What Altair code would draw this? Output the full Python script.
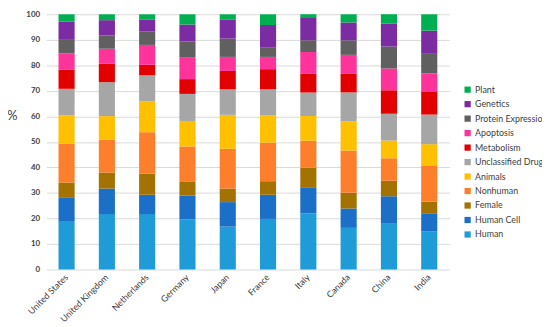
import altair as alt
import pandas as pd

countries = ["United States", "United Kingdom", "Netherlands", "Germany", "Japan",
             "France", "Italy", "Canada", "China", "India"]

series = ["Human", "Human Cell", "Female", "Nonhuman", "Animals", "Unclassified Drug",
          "Metabolism", "Apoptosis", "Protein Expression", "Genetics", "Plant"]

colors = ["#1F9BD7", "#1B6FC6", "#A37200", "#FD7F2C", "#FFC000", "#A6A6A6",
          "#E30000", "#FF3399", "#606060", "#7B2CA3", "#00B050"]

human        = [19.0, 21.7, 21.7, 19.6, 16.8, 19.8, 22.0, 16.3, 17.9, 15.0]
human_cell   = [9.3, 10.0, 7.6, 9.4, 9.6, 9.5, 10.2, 7.6, 10.8, 6.8]
female       = [5.8, 6.3, 8.3, 5.3, 5.3, 5.3, 7.7, 6.2, 6.1, 4.8]
nonhuman     = [15.1, 12.8, 16.2, 13.9, 15.6, 15.1, 10.5, 16.5, 8.8, 14.2]
animals      = [11.2, 9.3, 12.1, 10.0, 13.3, 10.8, 9.7, 11.5, 6.9, 8.3]
unclassified = [10.4, 13.3, 10.2, 10.6, 10.0, 10.1, 9.3, 11.3, 10.5, 11.6]
metabolism   = [7.5, 7.2, 4.1, 5.8, 7.2, 7.9, 7.4, 7.4, 9.2, 9.1]
apoptosis    = [6.4, 5.9, 7.8, 8.4, 5.5, 4.8, 8.4, 7.3, 8.6, 7.0]
protein_expr = [5.6, 5.2, 5.2, 6.4, 7.2, 3.6, 4.6, 5.7, 8.6, 7.7]
genetics     = [6.9, 6.0, 4.8, 6.6, 7.5, 8.9, 8.7, 7.0, 8.9, 9.1]
plant        = [2.8, 2.3, 2.0, 4.0, 2.0, 4.2, 1.5, 3.2, 3.7, 6.4]

values = [human, human_cell, female, nonhuman, animals, unclassified,
          metabolism, apoptosis, protein_expr, genetics, plant]

rows = []
for si, (s, vals) in enumerate(zip(series, values)):
    for c, v in zip(countries, vals):
        rows.append({"country": c, "series": s, "value": v, "idx": si})
df = pd.DataFrame(rows)

FONT = "Lato"

chart = alt.Chart(df).mark_bar().encode(
    x=alt.X("country:N", sort=countries, title=None,
            scale=alt.Scale(paddingInner=0.6, paddingOuter=0.3),
            axis=alt.Axis(labelAngle=-45, labelAlign="right", labelBaseline="middle",
                          labelFontSize=9, labelColor="#404040", labelFont=FONT,
                          ticks=False, domain=False, labelPadding=6)),
    y=alt.Y("value:Q", stack="zero", title="%",
            scale=alt.Scale(domain=[0, 100], nice=False),
            axis=alt.Axis(values=list(range(0, 101, 10)), labelOverlap=False,
                          labelFontSize=8, labelFontWeight="bold", labelColor="#404040",
                          labelFont=FONT, ticks=False, domain=False, labelPadding=7,
                          gridColor="#D9D9D9", gridWidth=1,
                          titleAngle=0, titleX=-35, titleY=103, titleAlign="center",
                          titleBaseline="middle", titleFontSize=13, titleFontWeight="normal",
                          titleColor="#404040", titleFont=FONT)),
    color=alt.Color("series:N",
                    scale=alt.Scale(domain=series[::-1], range=colors[::-1]),
                    legend=alt.Legend(title=None, orient="none", legendX=423, legendY=72,
                                      symbolType="square", symbolSize=40,
                                      labelFontSize=9, labelFont=FONT,
                                      labelColor="#404040", rowPadding=4.7,
                                      symbolStrokeWidth=0, labelOffset=3,
                                      labelLimit=200)),
    order=alt.Order("idx:Q", sort="ascending"),
).properties(
    width=409, height=259,
    autosize=alt.AutoSizeParams(type="none"),
    padding={"left": 39, "top": 4, "right": 94, "bottom": 56},
).configure_view(stroke=None)

chart.save("out.html", embed_options={"renderer": "svg", "actions": False})
